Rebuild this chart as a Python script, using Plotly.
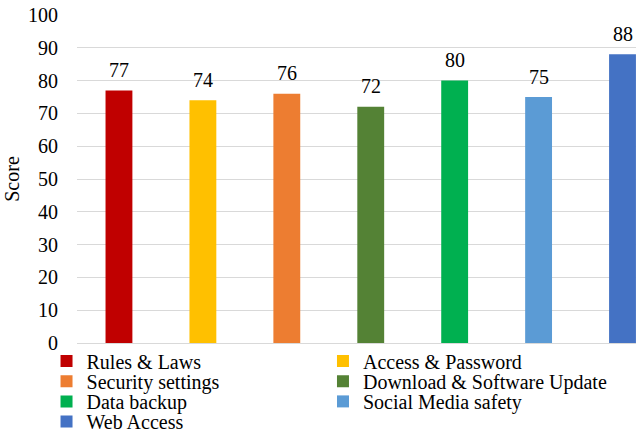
import plotly.graph_objects as go

categories = ["Rules & Laws", "Access & Password", "Security settings",
              "Download & Software Update", "Data backup",
              "Social Media safety", "Web Access"]
scores = [77, 74, 76, 72, 80, 75, 88]
colors = ["#C00000", "#FFC000", "#ED7D31", "#548235", "#00B050", "#5B9BD5", "#4472C4"]
y_ticks = [0, 10, 20, 30, 40, 50, 60, 70, 80, 90, 100]

FONT = "Liberation Serif"
FS = 20
ML, MR, MT, MB = 76.5, 0, 15, 91
PLOT_H = 434 - MT - MB
PLOT_W = 636 - ML - MR

fig = go.Figure()
legend_layout = {}
for i, (cat, val, col) in enumerate(zip(categories, scores, colors)):
    lid = "legend" if i == 0 else f"legend{i + 1}"
    fig.add_trace(go.Bar(
        x=[cat], y=[val], name=cat, marker_color=col, marker_line_width=0,
        width=0.32, legend=lid,
    ))
    fig.add_annotation(
        x=cat, y=val, text=str(val), showarrow=False,
        xanchor="center", yanchor="middle", yshift=20.5,
        font=dict(family=FONT, size=FS, color="#000000"),
    )
    row, colidx = divmod(i, 2)
    x_px = 46 + 276.7 * colidx
    y_px = 361 + 20.2 * row
    legend_layout[lid] = dict(
        orientation="h", xref="paper", yref="paper",
        x=(x_px - ML) / PLOT_W, xanchor="left",
        y=(PLOT_H + MT - y_px) / PLOT_H, yanchor="middle",
        font=dict(family=FONT, size=FS, color="#000000"),
        bgcolor="rgba(0,0,0,0)", borderwidth=0,
    )

fig.update_layout(
    width=636, height=434,
    margin=dict(l=ML, r=MR, t=MT, b=MB, autoexpand=False),
    paper_bgcolor="white", plot_bgcolor="white",
    barmode="overlay",
    font=dict(family=FONT, size=FS, color="#000000"),
    showlegend=True,
    xaxis=dict(
        type="category", categoryorder="array", categoryarray=categories,
        range=[-0.5, -0.5 + PLOT_W / 84], showticklabels=False,
        showgrid=False, showline=True, linecolor="#d9d9d9", linewidth=1,
        zeroline=False, ticks="",
    ),
    yaxis=dict(
        range=[0, 100], tickvals=y_ticks, showgrid=True, gridcolor="#d9d9d9",
        gridwidth=1, zeroline=False, showline=False,
        ticks="outside", ticklen=14, tickcolor="rgba(0,0,0,0)",
        tickfont=dict(family=FONT, size=FS, color="#000000"),
        title=dict(text="Score", font=dict(family=FONT, size=FS, color="#000000"), standoff=3),
    ),
    **legend_layout,
)

fig.write_html("out.html")
